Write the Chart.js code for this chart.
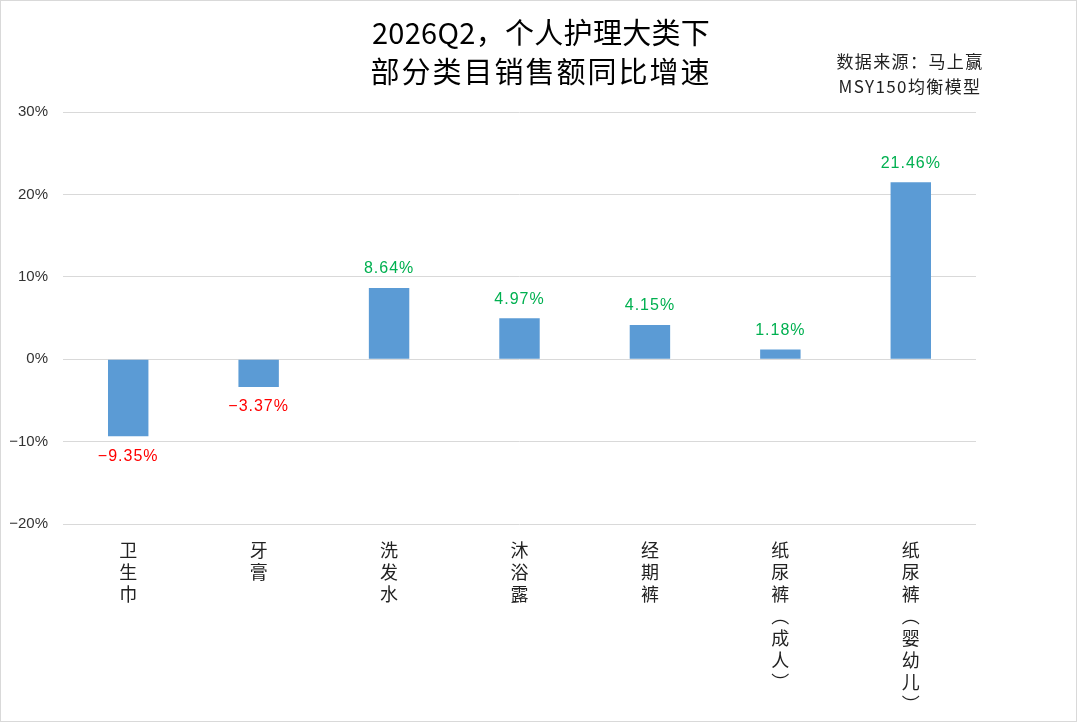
<!DOCTYPE html>
<html>
<head>
<meta charset="utf-8">
<script src="https://cdn.jsdelivr.net/npm/chart.js@4/dist/chart.umd.min.js"></script>
<style>
    html, body { margin: 0; padding: 0; background: #fff; }
    #wrap { width: 1080px; height: 722px; position: relative; }
</style>
</head>
<body>
<div id="wrap"><canvas id="growthChart" width="1080" height="722"></canvas></div>
<script>
const categories = [
    ['卫', '生', '巾'],
    ['牙', '膏'],
    ['洗', '发', '水'],
    ['沐', '浴', '露'],
    ['经', '期', '裤'],
    ['纸', '尿', '裤', '︵', '成', '人', '︶'],
    ['纸', '尿', '裤', '︵', '婴', '幼', '儿', '︶']
]
const growthRates = [-9.35, -3.37, 8.64, 4.97, 4.15, 1.18, 21.46]
const yTickValues = [-20, -10, 0, 10, 20, 30]
const yTickLabels = ['−20%', '−10%', '0%', '10%', '20%', '30%']
const titleLines = ['2026Q2，个人护理大类下', '部分类目销售额同比增速']
const sourceLines = ['数据来源：马上赢', 'MSY150均衡模型']

const CJK = '"Noto Sans CJK SC", "Noto Sans", sans-serif'

// titles, source note, frame and value labels
const decorations = {
    id: 'decorations',
    afterDatasetsDraw(chart) {
        const ctx = chart.ctx
        const meta = chart.getDatasetMeta(0)
        ctx.save()
        ctx.font = '16px "Liberation Sans", Arial, sans-serif'
        ctx.letterSpacing = '1px'
        ctx.textAlign = 'center'
        ctx.textBaseline = 'middle'
        meta.data.forEach((bar, i) => {
            const v = growthRates[i]
            const text = (v < 0 ? '−' : '') + Math.abs(v).toFixed(2) + '%'
            ctx.fillStyle = v < 0 ? '#ff0000' : '#00b050'
            ctx.fillText(text, bar.x, v < 0 ? bar.y + 20 : bar.y - 19)
        })
        ctx.restore()
    },
    afterDraw(chart) {
        const ctx = chart.ctx
        ctx.save()
        ctx.fillStyle = '#000'
        ctx.textAlign = 'center'
        ctx.textBaseline = 'middle'
        ctx.font = '29px ' + CJK
        ctx.letterSpacing = '0.3px'
        ctx.fillText(titleLines[0], 541, 33)
        ctx.letterSpacing = '2px'
        ctx.fillText(titleLines[1], 541, 72)

        ctx.fillStyle = '#222'
        ctx.font = '17px ' + CJK
        ctx.letterSpacing = '1.4px'
        ctx.fillText(sourceLines[0], 910, 62)
        ctx.fillText(sourceLines[1], 910, 87)

        ctx.strokeStyle = '#d9d9d9'
        ctx.lineWidth = 1
        ctx.strokeRect(0.5, 0.5, 1076, 721)
        ctx.restore()
    }
}

new Chart(document.getElementById('growthChart').getContext('2d'), {
    type: 'bar',
    data: {
        labels: categories,
        datasets: [{
            label: '同比增速',
            data: growthRates,
            backgroundColor: '#5b9bd5',
            borderWidth: 0,
            categoryPercentage: 1,
            barPercentage: 0.31
        }]
    },
    options: {
        responsive: false,
        animation: false,
        layout: {
            padding: {left: 0, right: 104, top: 112, bottom: 0}
        },
        scales: {
            x: {
                grid: {display: false, drawTicks: false},
                border: {display: false},
                ticks: {
                    color: '#222',
                    font: {family: CJK, size: 18, lineHeight: '22px'},
                    padding: 15,
                    maxRotation: 0,
                    autoSkip: false
                },
                afterFit(scale) { scale.height = 198 }
            },
            y: {
                min: -20,
                max: 30,
                grid: {color: '#d9d9d9', lineWidth: 1, drawTicks: false},
                border: {display: false},
                afterBuildTicks(scale) {
                    scale.ticks = yTickValues.map(value => ({value}))
                },
                ticks: {
                    color: '#333',
                    font: {family: '"Liberation Sans", Arial, sans-serif', size: 15},
                    padding: 15,
                    callback: value => yTickLabels[yTickValues.indexOf(value)]
                },
                afterFit(scale) { scale.width = 63 }
            }
        },
        plugins: {
            legend: {display: false},
            title: {display: false},
            tooltip: {enabled: false}
        }
    },
    plugins: [decorations]
})
</script>
</body>
</html>
